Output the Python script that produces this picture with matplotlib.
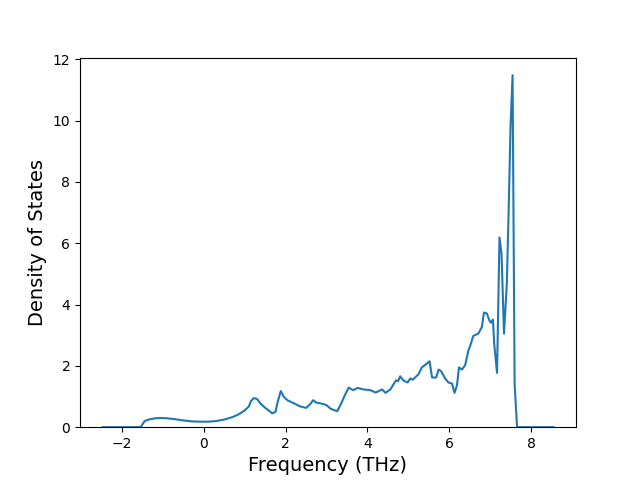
import matplotlib
matplotlib.use("Agg")
import matplotlib.pyplot as plt

freq = [-2.48, -1.55, -1.5, -1.45, -1.35, -1.2, -1.05, -0.9, -0.7, -0.5,
        -0.3, -0.1, 0.1, 0.3, 0.5, 0.7, 0.85, 1.0, 1.1, 1.15,
        1.22, 1.3, 1.4, 1.5, 1.6, 1.67, 1.75, 1.8, 1.88, 1.95,
        2.04, 2.2, 2.35, 2.5, 2.6, 2.67, 2.75, 2.85, 3.0, 3.1,
        3.26, 3.35, 3.45, 3.54, 3.65, 3.76, 3.91, 4.07, 4.2, 4.36,
        4.44, 4.56, 4.70, 4.75, 4.80, 4.89, 4.98, 5.05, 5.11, 5.25,
        5.33, 5.46, 5.52, 5.58, 5.68, 5.74, 5.80, 5.90, 5.98, 6.07,
        6.13, 6.19, 6.24, 6.31, 6.39, 6.47, 6.51, 6.59, 6.71, 6.80,
        6.85, 6.92, 6.98, 7.02, 7.07, 7.10, 7.17, 7.23, 7.28, 7.34,
        7.41, 7.46, 7.50, 7.55, 7.60, 7.66, 8.55]

dos = [0, 0, 0.1, 0.2, 0.25, 0.29, 0.30, 0.29, 0.26, 0.22,
       0.19, 0.18, 0.18, 0.2, 0.25, 0.33, 0.42, 0.55, 0.68, 0.85,
       0.95, 0.92, 0.75, 0.63, 0.53, 0.45, 0.5, 0.8, 1.18, 1.0,
       0.88, 0.78, 0.68, 0.63, 0.75, 0.88, 0.8, 0.78, 0.72, 0.6,
       0.52, 0.75, 1.05, 1.29, 1.21, 1.28, 1.23, 1.21, 1.13, 1.23,
       1.12, 1.23, 1.53, 1.5, 1.66, 1.51, 1.46, 1.59, 1.55, 1.73,
       1.95, 2.08, 2.15, 1.62, 1.62, 1.88, 1.83, 1.59, 1.46, 1.42,
       1.12, 1.37, 1.95, 1.88, 2.02, 2.51, 2.64, 2.98, 3.05, 3.27,
       3.74, 3.71, 3.49, 3.41, 3.51, 2.73, 1.77, 6.19, 5.66, 3.05,
       4.69, 7.40, 9.79, 11.48, 1.42, 0, 0]

fig, ax = plt.subplots(figsize=(6.4, 4.8), dpi=100)
ax.plot(freq, dos)
ax.set_ylim(bottom=0)
ax.set_xlabel("Frequency (THz)", fontsize=14)
ax.set_ylabel("Density of States", fontsize=14)
fig.savefig("out.png")
